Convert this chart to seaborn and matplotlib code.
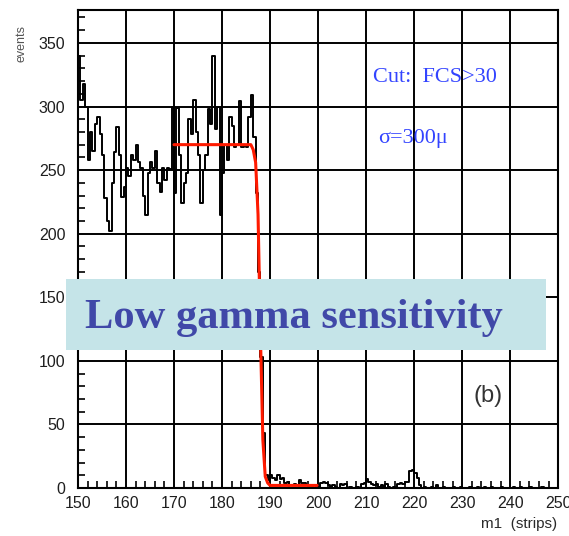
import numpy as np
import pandas as pd
import matplotlib
matplotlib.use("Agg")
import matplotlib.pyplot as plt
import seaborn as sns
from matplotlib.patches import Rectangle
from matplotlib.ticker import MultipleLocator

# ==========================================================
# Data, bins of 0.5 strip from 150
# ==========================================================
bin_start = 150.0
bin_width = 0.5

counts_plateau = [
    340, 305, 318, 300, 258, 280, 265, 286, 292, 278,
    262, 228, 210, 202, 240, 264, 284, 262, 229, 237,
    252, 245, 262, 258, 270, 256, 252, 230, 215, 248,
    256, 252, 265, 240, 233, 252, 242, 252, 251, 300,
    232, 299, 262, 224, 240, 248, 290, 278, 305, 280,
    262, 224, 250, 262, 298, 286, 340, 282, 300, 215,
    248, 270, 258, 292, 285, 268, 270, 304, 268, 270,
    268, 292, 309, 276, 232, 170, 103, 43, 10, 6,
]
counts_tail = [
    10, 8, 6, 10, 7, 8, 4, 5, 2, 2, 3, 2, 6, 4, 4, 2, 1, 1, 2, 1,
    0, 4, 5, 4, 2, 1, 2, 1, 0, 3, 2, 3, 0, 1, 0, 0, 1, 0, 3, 4,
    7, 5, 3, 2, 3, 1, 2, 0, 3, 1, 0, 1, 0, 3, 4, 3, 5, 5, 13, 14,
    12, 8, 2, 0, 1, 0, 0, 1, 0, 2, 0, 0, 1, 0, 0, 0, 1, 0, 0, 1,
    0, 0, 0, 1, 0, 0, 1, 0, 0, 1, 0, 0, 1, 0, 0, 0, 1, 0, 0, 0,
    0, 1, 0, 0, 1, 0, 0, 0, 1, 0, 0, 0, 0, 1, 0, 0, 0, 0, 0, 0,
]
counts = counts_plateau + counts_tail

# fitted edge (red curve)
fit_x = [170, 186.0, 186.5, 187.0, 187.5, 188.0, 188.5, 189.0, 189.5, 190.0, 195.0, 199.8]
fit_y = [270, 270, 266, 256, 215, 120, 38, 9, 4, 2, 2, 2]

x_ticks = [150, 160, 170, 180, 190, 200, 210, 220, 230, 240, 250]
y_ticks = [0, 50, 100, 150, 200, 250, 300, 350]

centers = bin_start + bin_width * (np.arange(len(counts)) + 0.5)
hist_df = pd.DataFrame({"m1": centers, "events": counts})

# ==========================================================
# Figure
# ==========================================================
sns.set_style("white")
plt.rcParams["font.family"] = ["Liberation Sans", "DejaVu Sans"]

fig = plt.figure(figsize=(5.69, 5.36), dpi=100)
ax = fig.add_axes([0.137, 0.0896, 0.844, 0.892])

sns.histplot(
    data=hist_df, x="m1", weights="events",
    binwidth=bin_width, binrange=(150, 250),
    element="step", fill=False, color="black", linewidth=1.4, ax=ax
)
sns.lineplot(x=fit_x, y=fit_y, color="#ff1a00", linewidth=2.2, ax=ax, zorder=3)

ax.set_xlim(150, 250)
ax.set_ylim(0, 376)
ax.set_xticks(x_ticks)
ax.set_yticks(y_ticks)
ax.xaxis.set_minor_locator(MultipleLocator(2))
ax.yaxis.set_minor_locator(MultipleLocator(10))
ax.grid(True, which="major", color="black", linewidth=1.4)
ax.set_axisbelow(True)
ax.tick_params(which="major", direction="in", length=0, labelsize=11.5,
               labelcolor="#1e1e1e")
ax.tick_params(axis="y", which="major", pad=9)
ax.tick_params(axis="x", which="major", pad=6)
ax.tick_params(which="minor", direction="in", length=5, width=1.2,
               color="black", left=True, bottom=True)
for sp in ax.spines.values():
    sp.set_color("black")
    sp.set_linewidth(1.5)
ax.set_xlabel("")
ax.set_ylabel("")

# axis titles
fig.text(0.037, 0.953, "events", rotation=90, ha="center", va="top",
         fontsize=9, color="#555555")
fig.text(0.979, 0.022, "m1  (strips)", ha="right", va="center",
         fontsize=11, color="#2a2a2a")

# annotations
ax.text(211.5, 323, "Cut:  FCS>30", family="Liberation Serif",
        fontsize=16, color="#3344ff", va="center")
ax.text(212.5, 275, "\u03c3=300\u03bc", family="Liberation Serif",
        fontsize=16, color="#3344ff", va="center")
ax.text(235.4, 72, "(b)", fontsize=17, color="#333333", va="center", ha="center")

# highlighted banner
box = Rectangle((0.116, 0.347), 0.8436, 0.1325, transform=fig.transFigure,
                facecolor="#c5e4e8", edgecolor="none", zorder=10, clip_on=False)
ax.add_artist(box)
fig.text(0.149, 0.388, "Low gamma sensitivity", family="Liberation Serif",
         fontweight="bold", fontsize=30.6, color="#4048a8", va="baseline",
         ha="left", zorder=11)

plt.savefig("out.png", dpi=100)
